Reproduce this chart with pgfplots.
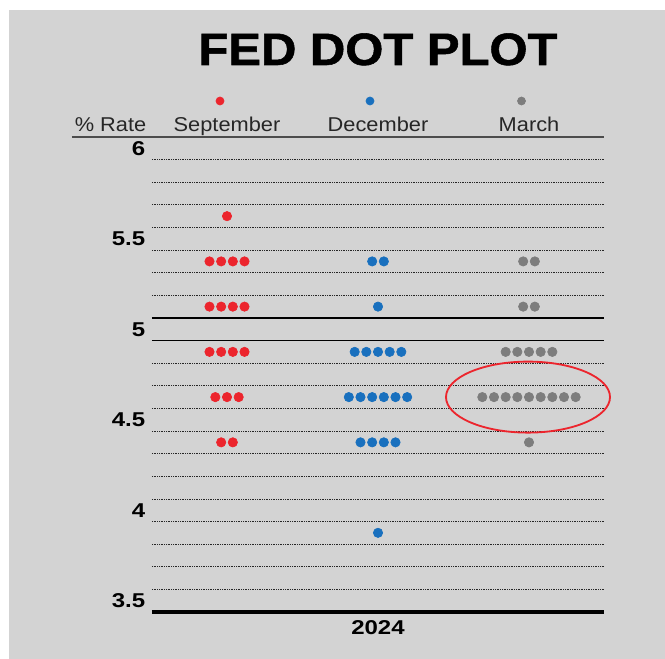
\documentclass[border=0pt]{standalone}
\usepackage{pgfplots}
\pgfplotsset{compat=1.18}
\usepackage{fontspec}
\setmainfont{Liberation Sans}
\newfontfamily\hdfont[FakeStretch=1.09]{Liberation Sans}
\newfontfamily\tkfont[FakeStretch=1.2]{Liberation Sans Bold}
\newfontfamily\ttlfont[FakeStretch=1.08,FakeBold=1.2]{Liberation Sans Bold}

\definecolor{dotred}{RGB}{236,37,45}
\definecolor{dotblue}{RGB}{25,112,190}
\definecolor{dotgray}{RGB}{125,125,125}
\definecolor{panel}{RGB}{211,211,211}

\tikzset{
  dotgrid/.style={black!85, line width=0.45pt, dash pattern=on 0.45pt off 0.6pt},
  dots/.style={only marks, mark=*, mark size=2.8pt},
}

% 1 px of the reference = 0.6pt; axis box spans px x 152..604, y 137..612
\begin{document}
\begin{tikzpicture}
  \fill[white] (-91.2pt,367.2pt) rectangle (307.8pt,-28.2pt);
  \fill[panel] (-85.8pt,361.2pt) rectangle (307.8pt,-28.2pt);
  \begin{axis}[
      scale only axis,
      width=271.2pt, height=285pt,
      xmin=152, xmax=604,
      ymin=3.4375, ymax=6.0625,
      clip=false,
      axis line style={draw=none},
      xtick=\empty,
      ytick={3.5,4,4.5,5,5.5,6},
      yticklabels={3.5,4,4.5,5,5.5,6},
      major tick length=0pt,
      yticklabel style={font=\tkfont\fontsize{12}{12}\selectfont, text=black,
                        inner sep=0pt, xshift=-3.9pt},
    ]
    % dotted rules between the rows
    \pgfplotsinvokeforeach{3.5625,3.6875,3.8125,3.9375,4.0625,4.1875,4.3125,4.4375,
        4.5625,4.6875,4.8125,5.1875,5.3125,5.4375,5.5625,5.6875,5.8125,5.9375}{
      \draw[dotgrid] (axis cs:152,#1) -- (axis cs:604,#1);
    }
    % solid rules
    \draw[black, line width=0.8pt] (axis cs:152,5.0625) -- (axis cs:604,5.0625);
    \draw[black, line width=0.8pt] (axis cs:152,4.9375) -- (axis cs:604,4.9375);
    \draw[black!70, line width=0.9pt] (axis cs:72,6.0625) -- (axis cs:604,6.0625);
    \draw[black, line width=2pt] (axis cs:152,3.4375) -- (axis cs:604,3.4375);

    % September
    \addplot[dotred, dots]
      coordinates {
        (227,5.625)
        (209.5,5.375) (221.17,5.375) (232.83,5.375) (244.5,5.375)
        (209.5,5.125) (221.17,5.125) (232.83,5.125) (244.5,5.125)
        (209.5,4.875) (221.17,4.875) (232.83,4.875) (244.5,4.875)
        (215.33,4.625) (227,4.625) (238.67,4.625)
        (221.17,4.375) (232.83,4.375)
      };
    % December
    \addplot[dotblue, dots]
      coordinates {
        (372.17,5.375) (383.83,5.375)
        (378,5.125)
        (354.67,4.875) (366.33,4.875) (378,4.875) (389.67,4.875) (401.33,4.875)
        (348.83,4.625) (360.5,4.625) (372.17,4.625) (383.83,4.625) (395.5,4.625) (407.17,4.625)
        (360.5,4.375) (372.17,4.375) (383.83,4.375) (395.5,4.375)
        (378,3.875)
      };
    % March
    \addplot[dotgray, dots]
      coordinates {
        (523.17,5.375) (534.83,5.375)
        (523.17,5.125) (534.83,5.125)
        (505.67,4.875) (517.33,4.875) (529,4.875) (540.67,4.875) (552.33,4.875)
        (482.33,4.625) (494,4.625) (505.67,4.625) (517.33,4.625) (529,4.625)
        (540.67,4.625) (552.33,4.625) (564,4.625) (575.67,4.625)
        (529,4.375)
      };

    % header keys
    \addplot[dotred, dots, mark size=2.4pt] coordinates {(220,6.2614)};
    \addplot[dotblue, dots, mark size=2.4pt] coordinates {(370,6.2614)};
    \addplot[dotgray, dots, mark size=2.4pt] coordinates {(521.5,6.2614)};

    \node[anchor=base, font=\hdfont\fontsize{12}{12}\selectfont, text=black!85, inner sep=0pt]
      at (axis cs:110.5,6.0918) {\% Rate};
    \node[anchor=base, font=\hdfont\fontsize{12}{12}\selectfont, text=black!85, inner sep=0pt]
      at (axis cs:227,6.0918) {September};
    \node[anchor=base, font=\hdfont\fontsize{12}{12}\selectfont, text=black!85, inner sep=0pt]
      at (axis cs:378,6.0918) {December};
    \node[anchor=base, font=\hdfont\fontsize{12}{12}\selectfont, text=black!85, inner sep=0pt]
      at (axis cs:529,6.0918) {March};

    \node[anchor=base, font=\ttlfont\fontsize{27.2}{27.2}\selectfont, inner sep=0pt]
      at (axis cs:378,6.4604) {FED DOT PLOT};

    \node[anchor=center, font=\tkfont\fontsize{12}{12}\selectfont, inner sep=0pt]
      at (axis cs:378,3.349) {2024};

    \draw[dotred, line width=1.1pt] (axis cs:528,4.625) ellipse [x radius=49.2pt, y radius=21.3pt];
  \end{axis}
\end{tikzpicture}
\end{document}
